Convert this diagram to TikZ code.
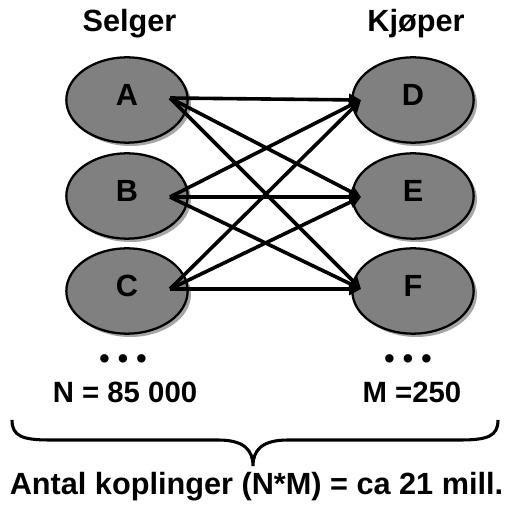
\documentclass[tikz,border=0pt]{standalone}
\usepackage{fontspec}
\setmainfont{Liberation Sans}
\usetikzlibrary{calc,arrows.meta,shapes.geometric,shadows}

\tikzset{every picture/.style={line width=0.75pt}}
\tikzset{
  agent/.style={ellipse, draw=black, line width=1.7pt, fill=black!50,
    minimum width=91pt, minimum height=64pt, inner sep=0pt,
    text height=16.5pt, text depth=8pt,
    font=\fontsize{23}{27}\selectfont\bfseries,
    general shadow={fill=black!35, shadow xshift=2.5pt, shadow yshift=-2.5pt}},
  caption/.style={inner sep=0pt, anchor=base, font=\fontsize{23}{27}\selectfont\bfseries},
  count/.style={inner sep=0pt, anchor=base, font=\fontsize{22}{26}\selectfont\bfseries},
  link/.style={line width=2.7pt, -{Triangle[length=9pt,width=9pt]}}
}

\begin{document}
\begin{tikzpicture}[x=0.75pt,y=0.75pt,yscale=-1,xscale=1]
\useasboundingbox (0,0) rectangle (512,506);

% Headings
\node[caption] (selger) at (129.5,32) {Selger};
\node[caption] (kjoper) at (416,32) {Kjøper};

% Sellers
\node[agent] (A) at (127,100) {A};
\node[agent] (B) at (127,196) {B};
\node[agent] (C) at (127,291) {C};
% Buyers
\node[agent] (D) at (413,100) {D};
\node[agent] (E) at (413,196) {E};
\node[agent] (F) at (413,291) {F};

% where the arrows leave and enter
\coordinate (A-out) at ($(A)+(43,-2)$);
\coordinate (B-out) at ($(B)+(43,1)$);
\coordinate (C-out) at ($(C)+(43,-2)$);
\coordinate (D-in) at ($(D)+(-52,0)$);
\coordinate (E-in) at ($(E)+(-52,1)$);
\coordinate (F-in) at ($(F)+(-52,-2)$);

% Connection
\draw[link] (A-out) -- (D-in);
\draw[link] (A-out) -- (E-in);
\draw[link] (A-out) -- (F-in);
% Connection
\draw[link] (B-out) -- (D-in);
\draw[link] (B-out) -- (E-in);
\draw[link] (B-out) -- (F-in);
% Connection
\draw[link] (C-out) -- (D-in);
\draw[link] (C-out) -- (E-in);
\draw[link] (C-out) -- (F-in);

% Dots and counts
\node[count] (dotsN) at (123,369) {• • •};
\node[count] (dotsM) at (408,369) {• • •};
\node[count] (countN) at (125,403) {N = 85 000};
\node[count] (countM) at (412,403) {M =250};

% Brace
\draw[line width=2.3pt] (12,420) .. controls (12,436) and (22,440) .. (50,440)
  -- (218,440) .. controls (244,440) and (253,450) .. (253,466)
  .. controls (253,450) and (262,440) .. (288,440)
  -- (460,440) .. controls (488,440) and (498,436) .. (498,420);

% Total
\node[caption] (total) at (256.5,495) {Antal koplinger (N*M) = ca 21 mill.};

\end{tikzpicture}
\end{document}
